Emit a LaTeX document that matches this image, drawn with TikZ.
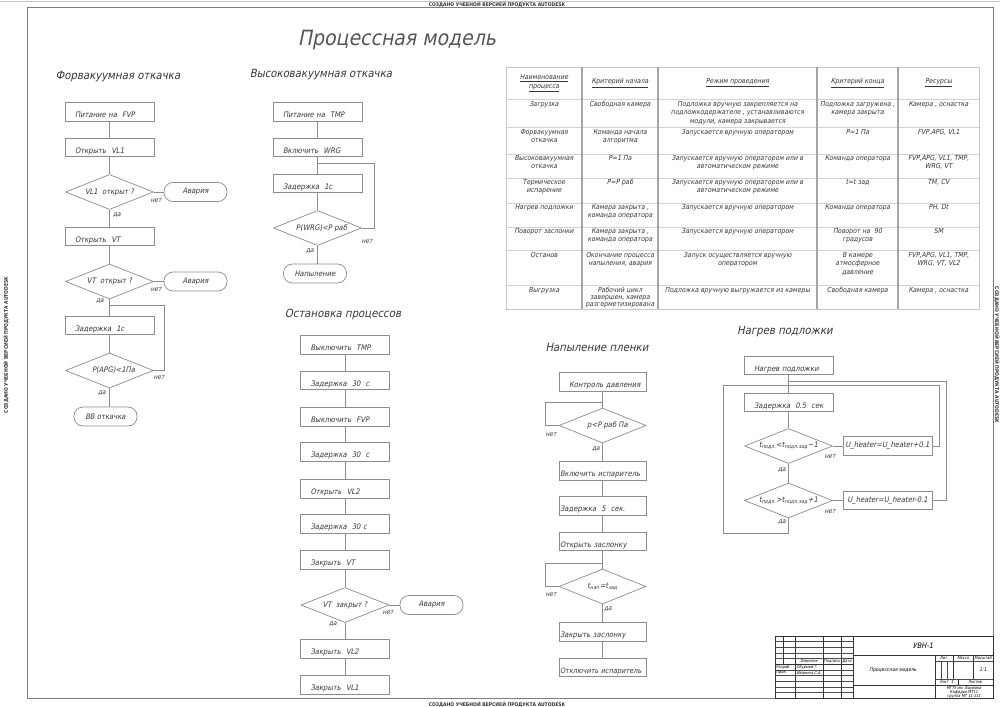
\documentclass[tikz,border=0pt]{standalone}
\usepackage{fontspec}
\setmainfont{DejaVu Sans Condensed}[FakeSlant=0.2]
\newfontfamily\stf{DejaVu Sans Condensed}
\usetikzlibrary{shapes.geometric}
\definecolor{lc}{HTML}{8C8C8C}
\definecolor{tc}{HTML}{383838}
\definecolor{fc}{HTML}{7E7E7E}
\newcommand\fbx{\fontsize{7.6}{8.8}\selectfont}
\newcommand\ftb{\fontsize{6.9}{8.5}\selectfont}
\newcommand\flb{\fontsize{6.6}{8}\selectfont}
\newcommand\fsc{\fontsize{11.3}{13}\selectfont}
\newcommand\fti{\fontsize{21}{24}\selectfont}
\newcommand\fst{\fontsize{5}{6}\stf\bfseries}
\newcommand\fsh{\fontsize{4}{4.6}\selectfont}
\newcommand\zb[1]{\makebox[0pt]{#1}}
\begin{document}
\begin{tikzpicture}[x=1pt,y=-1pt,
  every node/.style={text=tc},
  ln/.style={draw=lc, line width=0.7pt},
  bx/.style={rectangle, draw=lc, line width=0.7pt, minimum width=89pt, minimum height=18.5pt,
     text width=69pt, align=left, inner xsep=10pt, inner ysep=0pt, text height=11pt, text depth=0pt, font=\fbx},
  bxn/.style={bx, minimum width=87pt, text width=85pt, inner xsep=1pt},
  ubx/.style={rectangle, draw=lc, line width=0.7pt, minimum width=89pt, minimum height=18.5pt, inner sep=0pt, font=\fbx},
  dia/.style={diamond, draw=lc, line width=0.7pt, minimum width=88pt, minimum height=35pt, inner sep=0pt, font=\fbx},
  term/.style={rectangle, rounded corners=9pt, draw=lc, line width=0.7pt, minimum width=63pt, minimum height=19pt, inner sep=0pt, font=\fbx},
  lab/.style={font=\flb, inner sep=0pt},
  sect/.style={font=\fsc, inner sep=0pt},
  tcell/.style={anchor=north, align=center, font=\ftb, inner sep=0pt},
  thd/.style={align=center, font=\ftb, inner sep=0pt},
  trow/.style={draw=gray!35, line width=0.6pt},
  tcol/.style={draw=gray!70, line width=1.1pt},
  stamp/.style={font=\fst, text=black!80, inner sep=0pt},
  tb/.style={font=\fsh, inner sep=0pt, text=black},
  tbk/.style={draw=black!80, line width=0.8pt},
  tbt/.style={draw=black!70, line width=0.4pt}]
\useasboundingbox (0,0) rectangle (1000,706);
\fill[white] (0,0) rectangle (1000,706);
\draw[gray!45, line width=0.8pt] (0,1.2) -- (1000,1.2);
\draw[fc, line width=1pt] (27,8) rectangle (993,698);
\node[stamp] (st1) at (497,4.3) {СОЗДАНО УЧЕБНОЙ ВЕРСИЕЙ ПРОДУКТА AUTODESK};
\node[stamp, rotate=90] (st2) at (6,345) {СОЗДАНО УЧЕБНОЙ ВЕРСИЕЙ ПРОДУКТА AUTODESK};
\node[stamp, rotate=-90] (st3) at (997,355) {СОЗДАНО УЧЕБНОЙ ВЕРСИЕЙ ПРОДУКТА AUTODESK};
\node[stamp] (st4) at (497,704.5) {СОЗДАНО УЧЕБНОЙ ВЕРСИЕЙ ПРОДУКТА AUTODESK};

\node[font=\fti, text=tc!85, inner sep=0pt] (title) at (397,40) {Процессная модель};

% ---------- Форвакуумная откачка
\node[sect] (tf) at (118,77) {Форвакуумная откачка};
\node[bx] (f1) at (109.5,112) {Питание на~ FVP};
\node[bx] (f2) at (109.5,147.5) {Открыть~ VL1};
\node[dia] (f3) at (109.5,192) {\zb{VL1~ открыт ?}};
\node[term] (fa1) at (195.5,192) {Авария};
\node[bx] (f4) at (109.5,236.5) {Открыть~ VT};
\node[dia] (f5) at (109.5,281.5) {\zb{VT~ открыт ?}};
\node[term] (fa2) at (195.5,281.5) {Авария};
\node[bx] (f6) at (109.5,325.5) {Задержка~ 1с};
\node[dia] (f7) at (109.5,370.5) {\zb{\hspace*{8pt}P(APG)<1Па}};
\node[term] (f8) at (105.5,416.5) {ВВ откачка};
\coordinate (fj) at (109.5,305);
\draw[ln] (f1) -- (f2);
\draw[ln] (f2) -- (f3);
\draw[ln] (f3) -- (f4);
\draw[ln] (f4) -- (f5);
\draw[ln] (f5) -- (f6);
\draw[ln] (f6) -- (f7);
\draw[ln] (f7.south) -- (f7.south |- f8.north);
\draw[ln] (f3.east) -- (fa1.west);
\draw[ln] (f5.east) -- (fa2.west);
\draw[ln] (f7.east) -- ++(10.5,0) |- (fj);
\node[lab] (fl1) at (156,201) {нет};
\node[lab] (fl2) at (117,215) {да};
\node[lab] (fl3) at (156,290) {нет};
\node[lab] (fl4) at (100,301) {да};
\node[lab] (fl5) at (159,378) {нет};
\node[lab] (fl6) at (102,393) {да};

% ---------- Высоковакуумная откачка
\node[sect] (th) at (321,75) {Высоковакуумная откачка};
\node[bx] (h1) at (317.5,112) {Питание на~ TMP};
\node[bx] (h2) at (317.5,147.5) {Включить~ WRG};
\node[bx] (h3) at (317.5,183.5) {Задержка~ 1с};
\node[dia] (h4) at (317.5,228) {\zb{\hspace*{8pt}P(WRG)<P раб}};
\node[term] (h5) at (315,273.5) {Напыление};
\coordinate (hj) at (317.5,163);
\draw[ln] (h1) -- (h2);
\draw[ln] (h2) -- (h3);
\draw[ln] (h3) -- (h4);
\draw[ln] (h4.south) -- (h4.south |- h5.north);
\draw[ln] (h4.east) -- ++(12,0) |- (hj);
\node[lab] (hl1) at (367,242) {нет};
\node[lab] (hl2) at (310,251) {да};

% ---------- Остановка процессов
\node[sect] (ts) at (343,314) {Остановка процессов};
\node[bx] (s1) at (345,345) {Выключить~ TMP};
\node[bx] (s2) at (345,380.5) {Задержка~ 30~ с};
\node[bx] (s3) at (345,417) {Выключить~ FVP};
\node[bx] (s4) at (345,452) {Задержка~ 30~ с};
\node[bx] (s5) at (345,489) {Открыть~ VL2};
\node[bx] (s6) at (345,524) {Задержка~ 30 с};
\node[bx] (s7) at (345,560) {Закрыть~ VT};
\node[dia] (s8) at (345,605) {\zb{VT~ закрыт ?}};
\node[term] (sa) at (431.5,605) {Авария};
\node[bx] (s9) at (345,649) {Закрыть~ VL2};
\node[bx] (s10) at (345,685) {Закрыть~ VL1};
\draw[ln] (s1) -- (s2);
\draw[ln] (s2) -- (s3);
\draw[ln] (s3) -- (s4);
\draw[ln] (s4) -- (s5);
\draw[ln] (s5) -- (s6);
\draw[ln] (s6) -- (s7);
\draw[ln] (s7) -- (s8);
\draw[ln] (s8) -- (s9);
\draw[ln] (s9) -- (s10);
\draw[ln] (s8.east) -- (sa.west);
\node[lab] (sl1) at (388,613) {нет};
\node[lab] (sl2) at (333,624) {да};

% ---------- Напыление пленки
\node[sect] (tn) at (597,347) {Напыление пленки};
\node[bxn] (n1) at (602.5,382) {\hspace*{9pt}Контроль давления};
\node[dia, minimum width=87pt] (n2) at (602.5,425.5) {\zb{\hspace*{10pt}p<P раб Па}};
\node[bxn] (n3) at (602.5,471) {Включить испаритель};
\node[bxn] (n4) at (602.5,506) {Задержка~ 5~ сек.};
\node[bxn] (n5) at (602.5,541.5) {Открыть заслонку};
\node[dia, minimum width=87pt] (n6) at (602.5,586.5) {\zb{t\textsubscript{нап}=t\textsubscript{зад}}};
\node[bxn] (n7) at (602.5,632) {Закрыть заслонку};
\node[bxn, font=\fontsize{7.3}{8.8}\selectfont] (n8) at (602.5,667.5) {Отключить испаритель};
\coordinate (nj1) at (602.5,402);
\coordinate (nj2) at (602.5,563);
\draw[ln] (n1) -- (n2);
\draw[ln] (n2) -- (n3);
\draw[ln] (n3) -- (n4);
\draw[ln] (n4) -- (n5);
\draw[ln] (n5) -- (n6);
\draw[ln] (n6) -- (n7);
\draw[ln] (n7) -- (n8);
\draw[ln] (n2.west) -- ++(-13,0) |- (nj1);
\draw[ln] (n6.west) -- ++(-13,0) |- (nj2);
\node[lab] (nl1) at (551,435) {нет};
\node[lab] (nl2) at (596,449) {да};
\node[lab] (nl3) at (551,595) {нет};
\node[lab] (nl4) at (608,609) {да};

% ---------- Нагрев подложки
\node[sect] (tg) at (785,332) {Нагрев подложки};
\node[bx] (g1) at (788.5,365.5) {Нагрев подложки};
\node[bx] (g2) at (788.5,402.5) {Задержка~ 0.5~ сек};
\node[dia] (g3) at (788.5,446) {\zb{t\textsubscript{подл.}<t\textsubscript{подл.зад}−1}};
\node[ubx] (g4) at (887.5,446) {U\_heater=U\_heater+0.1};
\node[dia] (g5) at (788.5,500.5) {\zb{t\textsubscript{подл.}>t\textsubscript{подл.зад}+1}};
\node[ubx] (g6) at (887.5,500.5) {U\_heater=U\_heater-0.1};
\coordinate (gj2) at (788.5,381);
\coordinate (gc1) at (939,446);
\coordinate (gc2) at (939,385);
\coordinate (gc3) at (723,385);
\coordinate (gc4) at (723,533);
\coordinate (gc5) at (788.5,533);
\coordinate (gc6) at (946,500.5);
\coordinate (gc7) at (946,381);
\draw[ln] (g1) -- (g2);
\draw[ln] (g2) -- (g3);
\draw[ln] (g3) -- (g5);
\draw[ln] (g3.east) -- (g4.west);
\draw[ln] (g5.east) -- (g6.west);
\draw[ln] (g4.east) -- (gc1) -- (gc2) -- (gc3) -- (gc4) -- (gc5) -- (g5.south);
\draw[ln] (g6.east) -- (gc6) -- (gc7) -- (gj2);
\node[lab] (gl1) at (830,457) {нет};
\node[lab] (gl2) at (782,470) {да};
\node[lab] (gl3) at (830,512) {нет};
\node[lab] (gl4) at (782,522) {да};

% ---------- Таблица
\foreach \y in {99,127,154,178,203,227,250,285} \draw[trow] (506,\y) -- (979,\y);
\draw[draw=gray!45, line width=0.7pt] (506,67) rectangle (979,309);
\foreach \x in {582,658,817,898} \draw[tcol] (\x,67) -- (\x,309);
\node[thd] (th1) at (544,83) {\underline{Наименование}\\\underline{процесса}};
\node[thd] (th2) at (620,83) {\underline{Критерий начала}};
\node[thd] (th3) at (737.5,83) {\underline{Режим проведения}};
\node[thd] (th4) at (857.5,83) {\underline{Критерий конца}};
\node[thd] (th5) at (938.5,83) {\underline{Ресурсы}};
% row 1
\node[tcell] (c11) at (544,101) {Загрузка};
\node[tcell] (c12) at (620,101) {Свободная камера};
\node[tcell] (c13) at (737.5,101) {Подложка вручную закрепляется на\\подложкодержателе , устанавливаются\\модули, камера закрывается};
\node[tcell] (c14) at (857.5,101) {Подложка загружена ,\\камера закрыта};
\node[tcell] (c15) at (938.5,101) {Камера , оснастка};
% row 2
\node[tcell] (c21) at (544,129) {Форвакуумная\\откачка};
\node[tcell] (c22) at (620,129) {Команда начала\\алгоритма};
\node[tcell] (c23) at (737.5,129) {Запускается вручную оператором};
\node[tcell] (c24) at (857.5,129) {P=1 Па};
\node[tcell] (c25) at (938.5,129) {FVP,APG, VL1};
% row 3
\node[tcell] (c31) at (544,155) {Высоковакуумная\\откачка};
\node[tcell] (c32) at (620,155) {P=1 Па};
\node[tcell] (c33) at (737.5,155) {Запускается вручную оператором или в\\автоматическом режиме};
\node[tcell] (c34) at (857.5,155) {Команда оператора};
\node[tcell] (c35) at (938.5,155) {FVP,APG, VL1, TMP,\\WRG, VT};
% row 4
\node[tcell] (c41) at (544,179) {Термическое\\испарение};
\node[tcell] (c42) at (620,179) {P=P раб};
\node[tcell] (c43) at (737.5,179) {Запускается вручную оператором или в\\автоматическом режиме};
\node[tcell] (c44) at (857.5,179) {t=t зад};
\node[tcell] (c45) at (938.5,179) {TM, CV};
% row 5
\node[tcell] (c51) at (544,204) {Нагрев подложки};
\node[tcell] (c52) at (620,204) {Камера закрыта ,\\команда оператора};
\node[tcell] (c53) at (737.5,204) {Запускается вручную оператором};
\node[tcell] (c54) at (857.5,204) {Команда оператора};
\node[tcell] (c55) at (938.5,204) {PH, Dt};
% row 6
\node[tcell] (c61) at (544,228) {Поворот заслонки};
\node[tcell] (c62) at (620,228) {Камера закрыта ,\\команда оператора};
\node[tcell] (c63) at (737.5,228) {Запускается вручную оператором};
\node[tcell] (c64) at (857.5,228) {Поворот на~ 90\\градусов};
\node[tcell] (c65) at (938.5,228) {SM};
% row 7
\node[tcell] (c71) at (544,252) {Останов};
\node[tcell] (c72) at (620,252) {Окончание процесса\\напыления, авария};
\node[tcell] (c73) at (737.5,252) {Запуск осуществляется вручную\\оператором};
\node[tcell] (c74) at (857.5,252) {В камере\\атмосферное\\давление};
\node[tcell] (c75) at (938.5,252) {FVP,APG, VL1, TMP,\\WRG, VT, VL2};
% row 8
\node[tcell] (c81) at (544,287) {Выгрузка};
\node[tcell, font=\fontsize{6.9}{7.2}\selectfont] (c82) at (620,287) {Рабочий цикл\\завершен, камера\\разгерметизирована};
\node[tcell] (c83) at (737.5,287) {Подложка вручную выгружается из камеры};
\node[tcell] (c84) at (857.5,287) {Свободная камера};
\node[tcell] (c85) at (938.5,287) {Камера , оснастка};

% ---------- Основная надпись
\draw[tbk] (775,636) rectangle (993,698);
\foreach \k in {1,...,10} \draw[tbt] (775,{636+\k*5.636}) -- (853,{636+\k*5.636});
\draw[tbk] (775,664.2) -- (853,664.2);
\foreach \x in {795.4,823,841,853} \draw[tbk] (\x,636) -- (\x,698);
\draw[tbk] (783.4,636) -- (783.4,664.2);
\draw[tbk] (853,655) -- (993,655);
\draw[tbk] (853,685) -- (993,685);
\draw[tbk] (935,655) -- (935,698);
\draw[tbt] (935,661) -- (993,661);
\draw[tbt] (935,679) -- (993,679);
\foreach \x in {941,947} \draw[tbt] (\x,661) -- (\x,679);
\draw[tbk] (953,655) -- (953,679);
\draw[tbk] (973,655) -- (973,679);
\draw[tbk] (958,679) -- (958,685);
\node[tb] (b1) at (809,661.5) {Фамилия};
\node[tb] (b2) at (832,661.5) {Подпись};
\node[tb] (b3) at (847,661.5) {Дата};
\node[tb, anchor=west] (b4) at (776,667.2) {Разраб.};
\node[tb, anchor=west] (b5) at (796.5,667.2) {Сбурмей Г.};
\node[tb, anchor=west] (b6) at (776,672.8) {Пров.};
\node[tb, anchor=west] (b7) at (796.5,672.8) {Иванина С.А.};
\node[tb, font=\fontsize{7.5}{9}\selectfont] (b8) at (923,646) {УВН-1};
\node[tb, font=\fontsize{5}{6}\selectfont] (b9) at (893,670) {Процессная модель};
\node[tb] (b10) at (944,658) {Лит.};
\node[tb] (b11) at (963,658) {Масса};
\node[tb] (b12) at (983,658) {Масштаб};
\node[tb, font=\fontsize{5}{6}\selectfont] (b13) at (983,670) {1:1};
\node[tb] (b14) at (946.5,682) {Лист~ 1};
\node[tb] (b15) at (975,682) {Листов};
\node[tb] (b16) at (964,688.3) {МГТУ им. Баумана};
\node[tb] (b17) at (964,692.6) {Кафедра МТ11};
\node[tb] (b18) at (964,696.6) {группа МТ 11-111};
\end{tikzpicture}
\end{document}
